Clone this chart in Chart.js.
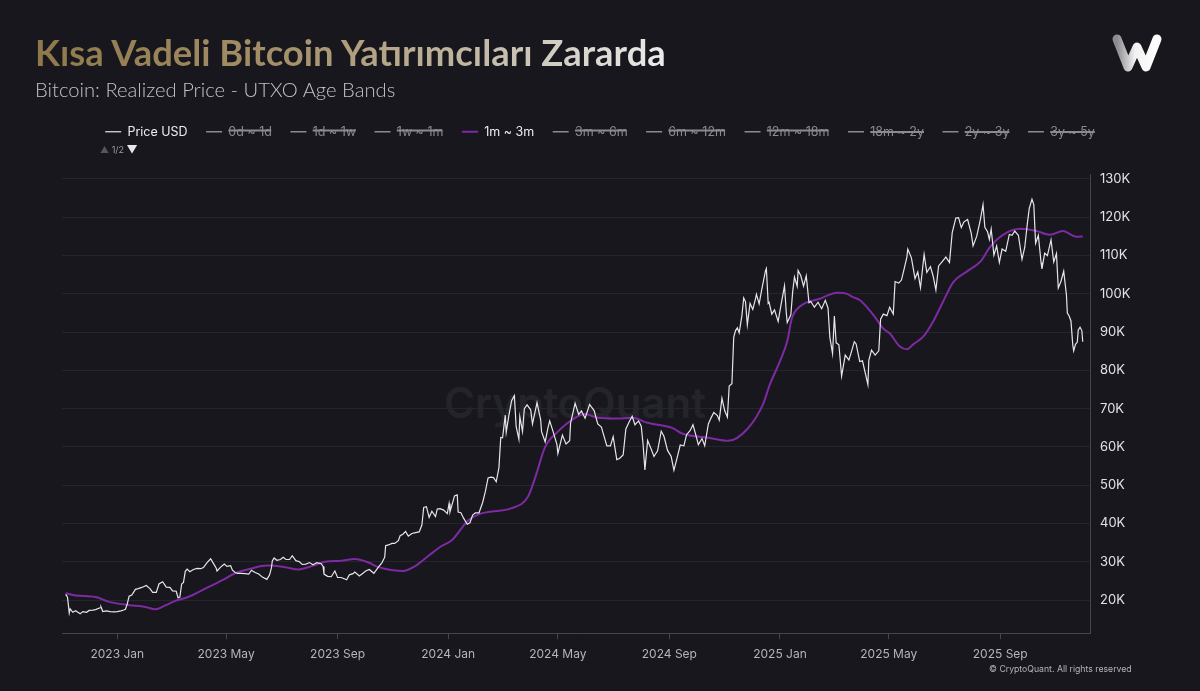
<!DOCTYPE html>
<html>
<head>
<meta charset="utf-8">
<script src="https://cdn.jsdelivr.net/npm/chart.js@4.4.1/dist/chart.umd.min.js"></script>
<style>
  body { margin: 0; background: #17171d; }
  #wrap { position: relative; width: 1200px; height: 691px; overflow: hidden; background: #17171d; }
  #chart { position: absolute; left: 0; top: 0; }
  .title {
    position: absolute; left: 35px; top: 34px; margin: 0; line-height: 1;
    font-family: Lato, sans-serif; font-weight: 700; font-size: 36.4px; white-space: nowrap;
    background: linear-gradient(90deg, #8e784b 0%, #a59169 40%, #c7c0b0 75%, #ececec 100%);
    -webkit-background-clip: text; background-clip: text; color: transparent;
  }
  .subtitle {
    position: absolute; left: 35px; top: 77px;
    font-family: Lato, sans-serif; font-weight: 300; font-size: 20.2px; color: #c2c2c6; white-space: nowrap;
  }
  .watermark {
    position: absolute; left: 575px; top: 402px; transform: translate(-50%, -50%);
    font-family: Inter, sans-serif; font-weight: 600; font-size: 42px; color: #24242b; white-space: nowrap;
  }
  .pager { position: absolute; left: 100px; top: 142px; font-family: Inter, sans-serif; font-size: 9px; color: #9a9aa0; }
  .pager .up { color: #55555c; font-size: 9px; }
  .pager .down { color: #e8e8ec; font-size: 11px; }
  .copy { position: absolute; left: 989px; top: 664px; font-family: Inter, sans-serif; font-size: 8.7px; color: #b4b4b8; white-space: nowrap; }
  .logo { position: absolute; left: 1106px; top: 27px; }
</style>
</head>
<body>
<div id="wrap">
  <div class="watermark">CryptoQuant</div>
  <canvas id="chart" width="1200" height="691"></canvas>
  <div class="title">Kısa Vadeli Bitcoin Yatırımcıları Zararda</div>
  <div class="subtitle">Bitcoin: Realized Price - UTXO Age Bands</div>
  <div class="pager"><span class="up">▲</span> 1/2 <span class="down">▼</span></div>
  <div class="copy">© CryptoQuant. All rights reserved</div>
  <svg class="logo" width="64" height="52" viewBox="0 0 64 52">
    <defs>
      <linearGradient id="lg" x1="0" y1="0" x2="1" y2="0">
        <stop offset="0" stop-color="#8c8c90"/>
        <stop offset="0.45" stop-color="#f2f2f2"/>
        <stop offset="1" stop-color="#ffffff"/>
      </linearGradient>
    </defs>
    <path d="M11 12 L22 40 L31 20 L40 40 L51 12" fill="none" stroke="url(#lg)" stroke-width="9" stroke-linecap="round" stroke-linejoin="round"/>
  </svg>
</div>
<script>
// values in thousands of USD
const priceDates = [
  '2022-11-05','2022-11-07','2022-11-08','2022-11-09','2022-11-10','2022-11-13','2022-11-16','2022-11-21','2022-11-24','2022-11-28',
  '2022-12-01','2022-12-05','2022-12-08','2022-12-13','2022-12-14','2022-12-16','2022-12-20','2022-12-24','2022-12-29',
  '2023-01-01','2023-01-05','2023-01-08','2023-01-10','2023-01-12','2023-01-14','2023-01-17','2023-01-21','2023-01-24','2023-01-28',
  '2023-02-02','2023-02-06','2023-02-09','2023-02-13','2023-02-16','2023-02-20','2023-02-24','2023-02-28',
  '2023-03-03','2023-03-07','2023-03-09','2023-03-11','2023-03-13','2023-03-15','2023-03-17','2023-03-19','2023-03-22','2023-03-26','2023-03-30',
  '2023-04-03','2023-04-06','2023-04-10','2023-04-14','2023-04-17','2023-04-20','2023-04-21','2023-04-25','2023-04-29',
  '2023-05-02','2023-05-06','2023-05-08','2023-05-11','2023-05-14','2023-05-18','2023-05-22','2023-05-26','2023-05-29',
  '2023-06-02','2023-06-06','2023-06-10','2023-06-15','2023-06-18','2023-06-20','2023-06-21','2023-06-23','2023-06-26','2023-06-30',
  '2023-07-03','2023-07-06','2023-07-10','2023-07-13','2023-07-17','2023-07-21','2023-07-24','2023-07-28',
  '2023-08-01','2023-08-05','2023-08-09','2023-08-14','2023-08-16','2023-08-17','2023-08-21','2023-08-25','2023-08-29',
  '2023-09-01','2023-09-05','2023-09-11','2023-09-14','2023-09-18','2023-09-20','2023-09-25','2023-09-29',
  '2023-10-02','2023-10-06','2023-10-11','2023-10-16','2023-10-20','2023-10-23','2023-10-24','2023-10-27','2023-10-31',
  '2023-11-03','2023-11-07','2023-11-09','2023-11-12','2023-11-15','2023-11-18','2023-11-22','2023-11-26','2023-11-30',
  '2023-12-03','2023-12-05','2023-12-08','2023-12-11','2023-12-14','2023-12-18','2023-12-20','2023-12-23','2023-12-27','2023-12-31',
  '2024-01-02','2024-01-03','2024-01-08','2024-01-11','2024-01-12','2024-01-15','2024-01-18','2024-01-22','2024-01-25','2024-01-28','2024-01-31',
  '2024-02-04','2024-02-08','2024-02-11','2024-02-14','2024-02-17','2024-02-20','2024-02-23','2024-02-26','2024-02-28',
  '2024-03-01','2024-03-04','2024-03-05','2024-03-08','2024-03-11','2024-03-14','2024-03-16','2024-03-19','2024-03-20','2024-03-23','2024-03-25','2024-03-28',
  '2024-04-01','2024-04-03','2024-04-08','2024-04-12','2024-04-13','2024-04-17','2024-04-20','2024-04-22','2024-04-26','2024-04-30',
  '2024-05-01','2024-05-06','2024-05-10','2024-05-14','2024-05-15','2024-05-20','2024-05-24','2024-05-27','2024-05-31',
  '2024-06-05','2024-06-10','2024-06-14','2024-06-18','2024-06-24','2024-06-28',
  '2024-07-01','2024-07-05','2024-07-08','2024-07-12','2024-07-15','2024-07-19','2024-07-22','2024-07-25','2024-07-29',
  '2024-08-01','2024-08-03','2024-08-05','2024-08-08','2024-08-12','2024-08-15','2024-08-19','2024-08-23','2024-08-26','2024-08-30',
  '2024-09-03','2024-09-06','2024-09-10','2024-09-13','2024-09-17','2024-09-20','2024-09-24','2024-09-27','2024-09-30',
  '2024-10-03','2024-10-07','2024-10-10','2024-10-14','2024-10-17','2024-10-20','2024-10-24','2024-10-26','2024-10-29',
  '2024-11-01','2024-11-04','2024-11-06','2024-11-09','2024-11-11','2024-11-13','2024-11-15','2024-11-17','2024-11-20','2024-11-22','2024-11-24','2024-11-26','2024-11-29',
  '2024-12-02','2024-12-05','2024-12-06','2024-12-09','2024-12-12','2024-12-16','2024-12-17','2024-12-19','2024-12-20','2024-12-23','2024-12-26','2024-12-30',
  '2025-01-02','2025-01-06','2025-01-08','2025-01-09','2025-01-13','2025-01-15','2025-01-17','2025-01-20','2025-01-21','2025-01-24','2025-01-27','2025-01-30',
  '2025-02-02','2025-02-04','2025-02-08','2025-02-12','2025-02-16','2025-02-20','2025-02-23','2025-02-25','2025-02-28',
  '2025-03-02','2025-03-04','2025-03-07','2025-03-10','2025-03-14','2025-03-18','2025-03-20','2025-03-24','2025-03-26','2025-03-30',
  '2025-04-02','2025-04-06','2025-04-08','2025-04-09','2025-04-12','2025-04-16','2025-04-20','2025-04-22','2025-04-25','2025-04-29',
  '2025-05-02','2025-05-06','2025-05-08','2025-05-12','2025-05-15','2025-05-18','2025-05-21','2025-05-22','2025-05-26','2025-05-30',
  '2025-06-02','2025-06-05','2025-06-09','2025-06-12','2025-06-16','2025-06-19','2025-06-22','2025-06-25','2025-06-29',
  '2025-07-03','2025-07-07','2025-07-10','2025-07-14','2025-07-17','2025-07-20','2025-07-23','2025-07-27','2025-07-31',
  '2025-08-02','2025-08-06','2025-08-10','2025-08-13','2025-08-15','2025-08-18','2025-08-20','2025-08-22','2025-08-25','2025-08-28','2025-08-31',
  '2025-09-03','2025-09-07','2025-09-11','2025-09-14','2025-09-17','2025-09-21','2025-09-25','2025-09-28',
  '2025-10-01','2025-10-03','2025-10-06','2025-10-08','2025-10-10','2025-10-13','2025-10-16','2025-10-17','2025-10-20','2025-10-23','2025-10-27','2025-10-30',
  '2025-11-02','2025-11-04','2025-11-07','2025-11-10','2025-11-13','2025-11-14','2025-11-16','2025-11-18','2025-11-20','2025-11-21','2025-11-23','2025-11-25','2025-11-26','2025-11-28','2025-11-30','2025-12-01'
]
const priceK = [
  21.5,20.8,18.8,16.6,17.7,16.8,17.2,16.4,17.0,16.8,
  17.3,17.4,17.5,18.0,18.2,17.0,17.2,17.0,16.9,
  17.0,17.2,17.4,17.6,19.0,21.0,21.3,22.8,23.0,23.3,
  23.8,23.0,22.0,22.0,24.2,24.8,23.4,23.3,
  22.4,22.3,20.6,20.8,24.2,24.6,27.5,28.1,27.4,28.0,28.3,
  28.2,28.5,29.8,30.8,29.6,28.4,27.6,28.6,29.4,
  28.8,29.0,27.8,27.2,27.0,27.0,26.9,26.8,27.8,
  27.2,26.8,26.0,25.4,26.6,28.4,30.2,31.0,30.4,30.6,
  31.2,30.6,30.6,31.6,30.3,30.0,29.3,29.4,
  29.8,29.2,29.8,29.5,28.8,26.8,26.2,26.1,27.6,
  25.9,25.9,25.3,26.6,26.9,27.3,26.3,27.0,
  27.6,28.0,27.0,28.6,29.8,31.2,34.2,34.4,34.8,
  34.8,35.5,36.8,37.2,37.9,36.7,37.4,37.6,37.8,
  39.6,44.2,44.4,41.6,43.2,41.8,43.8,43.9,43.5,42.6,
  45.2,43.0,47.2,47.5,43.0,42.8,41.4,39.8,40.2,42.2,42.8,
  42.8,45.5,48.3,51.9,52.1,52.0,50.9,54.6,62.5,
  62.4,68.3,63.8,68.3,72.1,73.4,65.3,62.0,67.9,64.0,70.0,71.0,
  69.7,66.0,71.6,67.1,64.0,61.3,64.9,66.8,63.8,60.6,
  58.3,63.1,60.8,61.6,66.2,71.4,68.5,69.4,67.5,
  71.1,69.5,66.0,65.2,60.3,60.3,
  62.7,56.7,57.0,57.9,64.7,66.7,68.0,65.8,66.8,
  65.4,60.7,54.0,61.7,59.4,57.5,59.0,64.1,62.8,59.1,
  57.5,53.9,57.6,60.5,60.3,63.2,64.3,65.8,63.3,
  60.6,62.2,60.3,66.0,67.6,69.0,68.2,67.0,72.7,
  69.5,67.8,75.9,76.5,88.7,90.4,91.1,89.8,94.3,98.9,97.9,91.9,97.5,
  95.9,98.7,99.9,97.4,101.2,106.0,106.6,97.5,97.8,94.7,95.8,92.8,
  96.9,102.1,95.0,92.5,94.5,100.5,104.4,102.0,106.1,104.7,102.0,104.7,
  97.7,98.0,96.5,97.8,96.1,98.3,96.3,88.7,84.4,
  94.2,87.2,86.7,78.5,84.0,82.7,84.2,87.5,86.9,82.3,
  82.5,78.4,76.3,82.6,85.3,84.0,85.1,93.4,94.7,94.3,
  96.5,94.7,103.2,102.8,103.6,106.5,109.6,111.7,109.4,104.0,
  105.7,101.6,110.3,105.6,107.1,104.6,101.0,107.3,108.4,
  109.6,108.2,116.0,119.8,119.9,117.3,118.8,119.4,115.8,
  112.5,115.0,119.3,123.3,117.4,116.2,114.2,116.9,110.1,112.5,108.2,
  111.7,111.1,115.5,115.3,116.4,115.3,109.0,112.1,
  118.6,122.3,124.7,123.3,113.2,115.3,108.2,106.5,110.6,110.0,114.1,108.3,
  110.5,101.5,103.3,105.9,99.7,95.0,94.2,92.9,86.6,85.1,86.8,87.4,90.5,91.3,90.4,87.5
]

// 1m ~ 3m realized price
const rpDates = [
  '2022-11-05','2022-11-16','2022-12-08','2022-12-22','2023-01-13','2023-02-01','2023-02-12','2023-02-23','2023-03-06','2023-03-20',
  '2023-04-08','2023-04-27','2023-05-11','2023-05-28','2023-06-16','2023-07-05','2023-07-20','2023-08-05','2023-08-18','2023-09-05',
  '2023-09-20','2023-10-05','2023-10-16','2023-11-01','2023-11-12','2023-11-25','2023-12-10','2023-12-24','2024-01-05','2024-01-23',
  '2024-02-05','2024-02-14','2024-03-11','2024-03-29','2024-04-06','2024-04-17','2024-05-01','2024-05-20','2024-05-31','2024-06-14',
  '2024-07-05','2024-07-22','2024-08-08','2024-09-04','2024-09-15','2024-10-14','2024-11-05','2024-11-26','2024-12-13','2024-12-21',
  '2025-01-01','2025-01-09','2025-01-14','2025-01-23','2025-02-14','2025-03-05','2025-03-16','2025-03-22','2025-03-30','2025-04-14',
  '2025-04-25','2025-05-02','2025-05-13','2025-05-21','2025-05-28','2025-06-08','2025-06-19','2025-06-30','2025-07-11','2025-07-26',
  '2025-08-10','2025-08-21','2025-09-04','2025-09-23','2025-10-11','2025-10-26','2025-11-09','2025-11-24','2025-12-01'
]
const rpK = [
  21.8,21.2,20.8,19.6,18.7,18.2,17.6,18.6,19.8,20.8,
  23.0,25.2,27.0,28.2,29.0,28.6,28.0,29.0,30.0,30.3,
  30.7,29.8,28.6,27.8,27.6,28.8,31.5,34.0,35.6,40.8,
  42.5,43.0,44.0,47.0,52.0,60.0,64.0,67.6,68.6,67.6,
  67.4,67.6,66.3,65.0,63.5,62.4,61.6,64.7,71.0,76.4,
  82.4,87.6,93.5,96.7,98.7,100.3,100.0,99.2,98.4,94.5,
  90.9,89.7,86.3,85.5,86.8,88.8,92.8,98.0,103.0,105.8,
  108.4,112.3,115.4,117.0,116.4,115.4,116.4,114.9,115.0
]

const bandsBefore = ['0d ~ 1d', '1d ~ 1w', '1w ~ 1m']
const bandsAfter = ['3m ~ 6m', '6m ~ 12m', '12m ~ 18m', '18m ~ 2y', '2y ~ 3y', '3y ~ 5y']
const tickDates = ['2023-01-01','2023-05-01','2023-09-01','2024-01-01','2024-05-01','2024-09-01','2025-01-01','2025-05-01','2025-09-01']
const tickLabels = ['2023 Jan','2023 May','2023 Sep','2024 Jan','2024 May','2024 Sep','2025 Jan','2025 May','2025 Sep']
const yTicks = [20, 30, 40, 50, 60, 70, 80, 90, 100, 110, 120, 130]

const DAY = 86400000
const origin = Date.UTC(2023, 0, 1)
function dayOf(s){
  const p = s.split('-').map(Number)
  return (Date.UTC(p[0], p[1] - 1, p[2]) - origin) / DAY
}

function bandDataset(label){
  return { label: label, data: [], hidden: true, borderColor: '#8a8a92', borderWidth: 1.5, pointRadius: 0 }
}

// index 0 is drawn last, so price stays on top of the purple band
const datasets = [
  {
    label: 'Price USD',
    data: priceDates.map((d, i) => ({ x: dayOf(d), y: priceK[i] })),
    borderColor: '#e6e6ea', borderWidth: 1.2, pointRadius: 0, tension: 0
  },
  ...bandsBefore.map(bandDataset),
  {
    label: '1m ~ 3m',
    data: rpDates.map((d, i) => ({ x: dayOf(d), y: rpK[i] })),
    borderColor: '#7e2aa3', borderWidth: 2, pointRadius: 0, cubicInterpolationMode: 'monotone'
  },
  ...bandsAfter.map(bandDataset)
]

// push the plot down below the legend
const legendSpacer = {
  id: 'legendSpacer',
  beforeInit(chart){
    const fit = chart.legend.fit
    chart.legend.fit = function(){
      fit.bind(chart.legend)()
      this.height += 26
    }
  }
}

Chart.defaults.font.family = 'Inter, sans-serif'

new Chart(document.getElementById('chart'), {
  type: 'line',
  data: { datasets: datasets },
  plugins: [legendSpacer],
  options: {
    responsive: false,
    animation: false,
    layout: { padding: { left: 62, right: 62, top: 107, bottom: 0 } },
    plugins: {
      tooltip: { enabled: false },
      legend: {
        position: 'top',
        align: 'center',
        labels: {
          usePointStyle: true,
          pointStyle: 'line',
          pointStyleWidth: 16,
          padding: 18.5,
          font: { size: 12.5 },
          generateLabels(chart){
            const items = Chart.defaults.plugins.legend.labels.generateLabels(chart)
            items.forEach(it => {
              it.fontColor = it.hidden ? '#8a8a92' : '#ececf0'
              it.pointStyle = 'line'
            })
            return items
          }
        }
      }
    },
    scales: {
      x: {
        type: 'linear',
        min: dayOf('2022-11-01'),
        max: dayOf('2025-12-09'),
        afterBuildTicks: s => { s.ticks = tickDates.map(d => ({ value: dayOf(d) })) },
        afterFit: s => { s.height = 58 },
        ticks: {
          autoSkip: false, maxRotation: 0, padding: 8,
          color: '#b4b4ba', font: { size: 12 },
          callback: (v, i) => tickLabels[i]
        },
        grid: { drawOnChartArea: false, drawTicks: true, tickLength: 6, color: '#45454d' },
        border: { color: '#45454d' }
      },
      y: {
        position: 'right',
        min: 11.4,
        max: 131.3,
        afterBuildTicks: s => { s.ticks = yTicks.map(v => ({ value: v })) },
        afterFit: s => { s.width = 48 },
        ticks: {
          padding: 10, color: '#e2e2e6', font: { size: 13 },
          callback: v => v + 'K'
        },
        grid: { color: '#25252c', drawTicks: false },
        border: { color: '#45454d' }
      }
    }
  }
})
</script>
</body>
</html>
